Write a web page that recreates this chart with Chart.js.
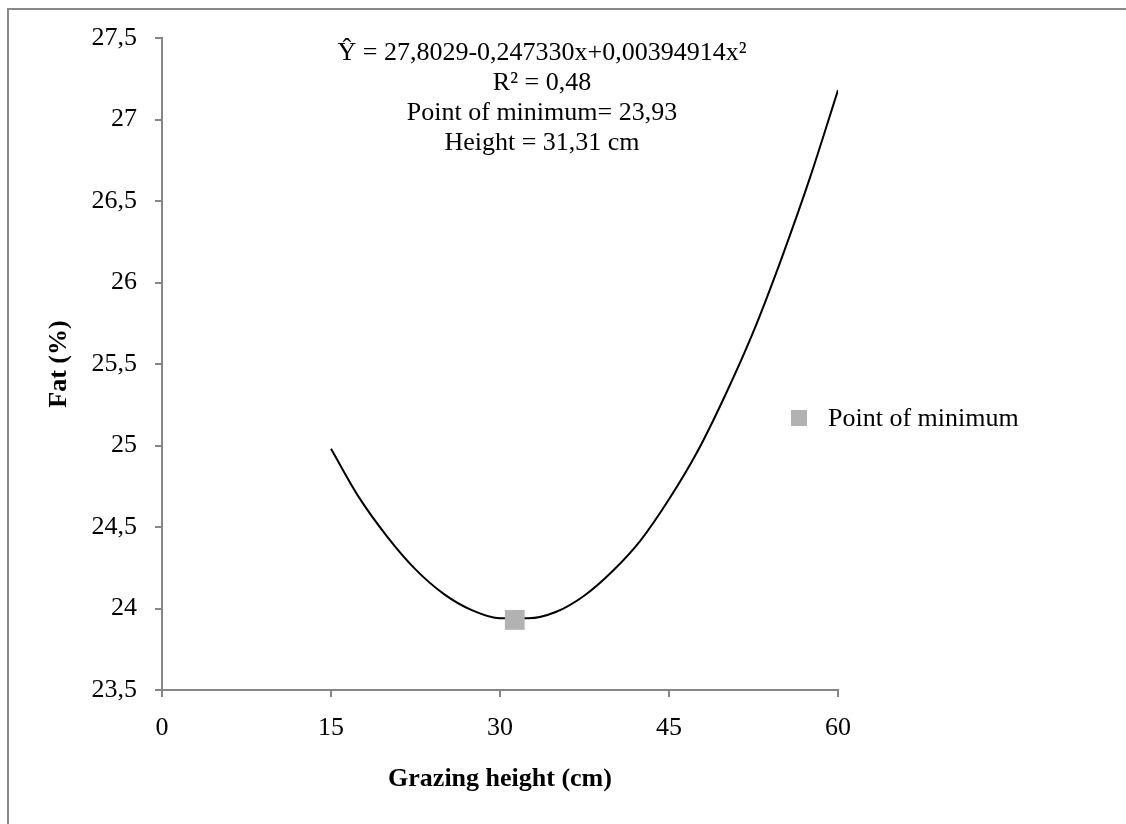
<!DOCTYPE html>
<html>
<head>
<meta charset="utf-8">
<script src="https://cdn.jsdelivr.net/npm/chart.js@4/dist/chart.umd.min.js"></script>
<style>
    body { margin: 0; background: #fff; }
    #wrap { position: relative; width: 1126px; height: 824px; overflow: hidden; }
    #frame { position: absolute; left: 7px; top: 8px; width: 1200px; height: 900px; border-left: 2px solid #8a8a8a; border-top: 2px solid #8a8a8a; }
    #chart { position: absolute; left: 0; top: 0; }
</style>
</head>
<body>
<div id="wrap">
    <div id="frame"></div>
    <canvas id="chart" width="1126" height="824"></canvas>
</div>
<script>
// values
const heights = [15, 17.5, 20, 22.5, 25, 27.5, 30, 32.5, 35, 37.5, 40, 42.5, 45, 47.5, 50, 52.5, 55, 57.5, 60];
const fatFit = [24.98, 24.68, 24.44, 24.24, 24.09, 23.99, 23.94, 23.94, 23.98, 24.08, 24.23, 24.42, 24.67, 24.96, 25.31, 25.70, 26.15, 26.64, 27.18];
const minHeight = [31.31];
const minFat = [23.93];
const xTicks = [0, 15, 30, 45, 60];
const yTicks = [23.5, 24, 24.5, 25, 25.5, 26, 26.5, 27, 27.5];
const equationLines = [
    'Ŷ = 27,8029-0,247330x+0,00394914x²',
    'R² = 0,48',
    'Point of minimum= 23,93',
    'Height = 31,31 cm'
];

const serif = '"Liberation Serif", "Times New Roman", serif';

function commaNum(v) {
    return String(v).replace('.', ',');
}

// equation block + legend drawn on top
const annotations = {
    id: 'annotations',
    afterDraw(chart) {
        const ctx = chart.ctx;
        ctx.save();
        ctx.fillStyle = '#000';
        ctx.font = '26px ' + serif;
        ctx.textAlign = 'center';
        ctx.textBaseline = 'middle';
        equationLines.forEach((line, i) => {
            ctx.fillText(line, 542, 53 + i * 30);
        });

        // legend for the minimum point
        const ds = chart.data.datasets[1];
        ctx.fillStyle = ds.backgroundColor;
        ctx.fillRect(791, 410, 16, 16);
        ctx.fillStyle = '#000';
        ctx.textAlign = 'left';
        ctx.fillText(ds.label, 828, 419);
        ctx.restore();
    }
};

const ctx = document.getElementById('chart').getContext('2d');
new Chart(ctx, {
    type: 'scatter',
    data: {
        datasets: [{
            label: 'Fit',
            type: 'line',
            data: heights.map((h, i) => ({ x: h, y: fatFit[i] })),
            borderColor: '#000',
            borderWidth: 2,
            pointRadius: 0,
            cubicInterpolationMode: 'monotone',
            fill: false,
            order: 2
        }, {
            label: 'Point of minimum',
            data: minHeight.map((h, i) => ({ x: h, y: minFat[i] })),
            backgroundColor: '#b2b2b2',
            borderWidth: 0,
            pointStyle: 'rect',
            pointRadius: 14,
            order: 1
        }]
    },
    options: {
        responsive: false,
        animation: false,
        layout: { padding: { left: 44, top: 38, right: 288, bottom: 29 } },
        plugins: {
            legend: { display: false },
            tooltip: { enabled: false }
        },
        scales: {
            x: {
                type: 'linear',
                min: 0,
                max: 60,
                afterBuildTicks: (scale) => { scale.ticks = xTicks.map(v => ({ value: v })); },
                afterFit: (scale) => { scale.height = 105; },
                ticks: {
                    color: '#000',
                    font: { family: serif, size: 26 },
                    padding: 16,
                    maxRotation: 0
                },
                grid: { drawOnChartArea: false, tickLength: 7, color: '#868686', lineWidth: 2 },
                border: { color: '#868686', width: 2 },
                title: {
                    display: true,
                    text: 'Grazing height (cm)',
                    color: '#000',
                    font: { family: serif, size: 26, weight: 'bold' },
                    padding: 0
                }
            },
            y: {
                type: 'linear',
                min: 23.5,
                max: 27.5,
                afterBuildTicks: (scale) => { scale.ticks = yTicks.map(v => ({ value: v })); },
                afterFit: (scale) => { scale.width = 118; },
                ticks: {
                    color: '#000',
                    font: { family: serif, size: 26 },
                    padding: 18,
                    callback: (v) => commaNum(v)
                },
                grid: { drawOnChartArea: false, tickLength: 7, color: '#868686', lineWidth: 2 },
                border: { color: '#868686', width: 2 },
                title: {
                    display: true,
                    text: 'Fat (%)',
                    color: '#000',
                    font: { family: serif, size: 26, weight: 'bold' },
                    padding: 0
                }
            }
        }
    },
    plugins: [annotations]
});
</script>
</body>
</html>
